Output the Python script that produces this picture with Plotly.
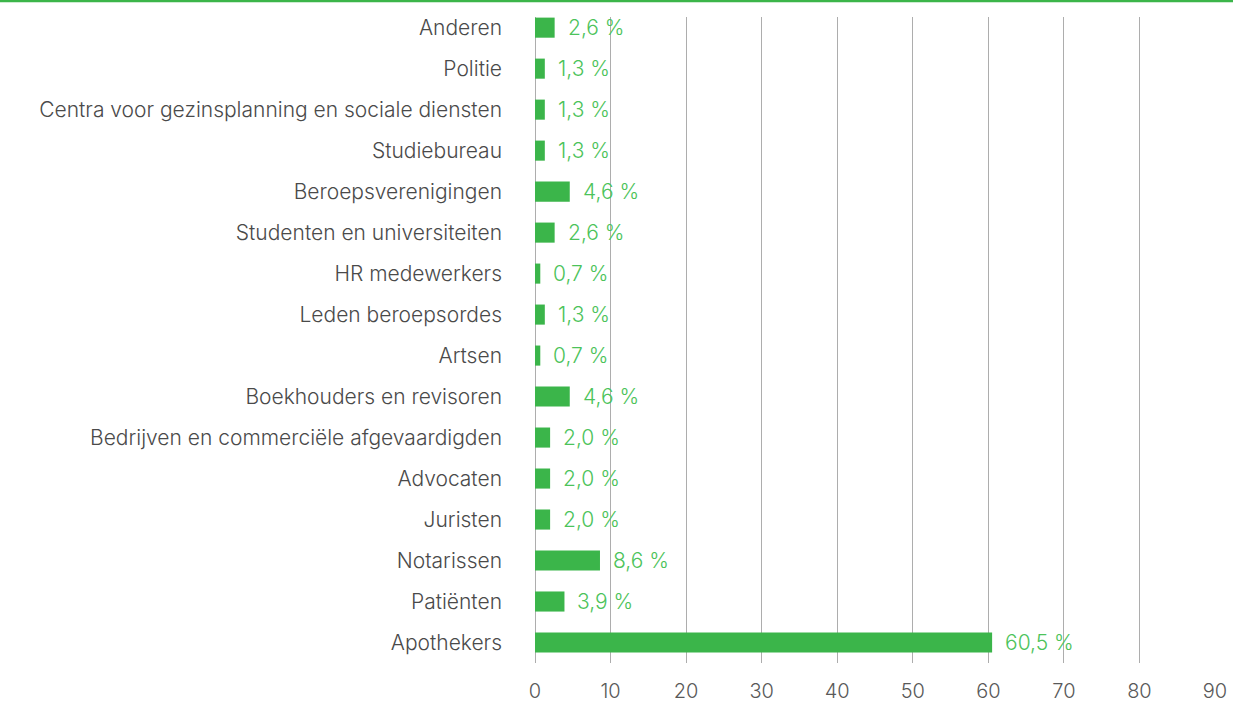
import plotly.graph_objects as go

categories = [
    "Anderen", "Politie", "Centra voor gezinsplanning en sociale diensten",
    "Studiebureau", "Beroepsverenigingen", "Studenten en universiteiten",
    "HR medewerkers", "Leden beroepsordes", "Artsen", "Boekhouders en revisoren",
    "Bedrijven en commerciële afgevaardigden", "Advocaten", "Juristen",
    "Notarissen", "Patiënten", "Apothekers",
]
values = [2.6, 1.3, 1.3, 1.3, 4.6, 2.6, 0.7, 1.3, 0.7, 4.6, 2.0, 2.0, 2.0, 8.6, 3.9, 60.5]
x_ticks = [0, 10, 20, 30, 40, 50, 60, 70, 80, 90]

GREEN = "#3bb54a"
LABEL_GREEN = "#4cc35a"
FONT = "Inter"

W, H = 1233, 704
ML, MR, MT, MB = 535, 18, 17, 41
pw = W - ML - MR
ph = H - MT - MB

fig = go.Figure()
fig.add_trace(go.Bar(
    y=categories, x=values, orientation="h",
    marker=dict(color=GREEN, line=dict(width=0)),
    width=0.49, hoverinfo="skip",
))

for c, v in zip(categories, values):
    fig.add_annotation(
        x=v, y=c, xref="x", yref="y",
        text=f"{v:.1f}".replace(".", ",") + " %",
        showarrow=False, xanchor="left", yanchor="middle", xshift=11,
        font=dict(family=FONT, size=21, color=LABEL_GREEN, weight=300),
    )

fig.add_shape(type="line", xref="paper", yref="paper",
              x0=-ML / pw, x1=1 + MR / pw,
              y0=1 + (MT - 1) / ph, y1=1 + (MT - 1) / ph,
              line=dict(color=GREEN, width=2.5))

fig.update_layout(
    width=W, height=H,
    margin=dict(l=ML, r=MR, t=MT, b=MB, pad=0, autoexpand=False),
    paper_bgcolor="white", plot_bgcolor="white",
    showlegend=False, bargap=0.5,
    font=dict(family=FONT, color="#555555"),
    xaxis=dict(
        range=[0, 90], tickvals=x_ticks, showgrid=True, gridcolor="#adadad",
        gridwidth=1.2, zeroline=True, zerolinecolor="#adadad", zerolinewidth=1.2,
        showline=False, ticks="", ticklabelstandoff=14, automargin=False,
        tickfont=dict(family=FONT, size=20, color="#595959", weight=300),
        fixedrange=True,
    ),
    yaxis=dict(
        type="category", categoryorder="array", categoryarray=categories,
        range=[15.5, -0.26], showgrid=False, showline=False, ticks="",
        ticklabelstandoff=32, automargin=False,
        tickfont=dict(family=FONT, size=21, color="#4a4a4a", weight=300),
        fixedrange=True,
    ),
)

fig.write_html("out.html")
